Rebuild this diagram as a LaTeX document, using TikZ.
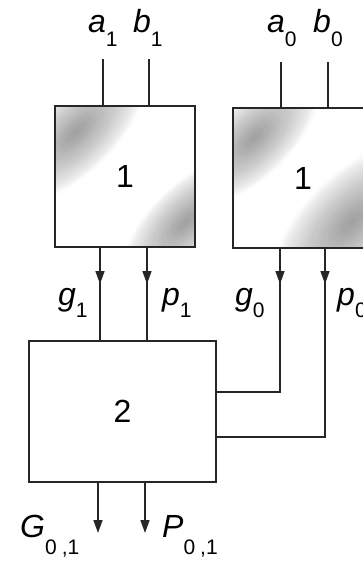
\documentclass[tikz,border=0pt]{standalone}
\usepackage{fontspec}
\setmainfont{Liberation Sans}
\usetikzlibrary{arrows.meta,decorations.markings,calc}
% stepped grey blob: centre x, centre y, half-width, half-length
\newcommand\grayblob[4]{%
  \foreach \i in {1,...,20}{%
    \pgfmathsetmacro\ff{1-(\i-1)/20}%
    \pgfmathtruncatemacro\kk{1+38*(1-\ff)^0.8}%
    \fill[black!\kk, rotate around={-45:(#1,#2)}] (#1,#2) ellipse [x radius=#3*\ff, y radius=#4*\ff];
  }}
\begin{document}
\begin{tikzpicture}[x=1pt,y=-1pt,
  ln/.style={line width=1.6pt, draw=black!85},
  blk/.style={draw=black!85, line width=2pt, rectangle, inner sep=0pt, font=\fontsize{32}{32}\selectfont},
  lbl/.style={anchor=base west, inner sep=0pt, font=\fontsize{32}{32}\selectfont\itshape},
  midarrow/.style={postaction={decorate}, decoration={markings, mark=at position #1 with {\arrow{Triangle[length=13pt,width=9pt]}}}},
  tipend/.style={-{Triangle[length=13pt,width=9pt]}}]
\useasboundingbox (0,0) rectangle (362,562);
% mottled grey of the stage-1 blocks
\begin{scope}
  \clip (55,106) rectangle (195,247);
  \grayblob{76}{132}{40}{90}
  \grayblob{186}{222}{36}{82}
\end{scope}
\begin{scope}
  \clip (233,108) rectangle (373,248);
  \grayblob{254}{138}{38}{84}
  \grayblob{352}{222}{48}{102}
\end{scope}
% blocks
\node[blk, minimum width=140pt, minimum height=141pt] (B1) at (125,176.5) {1};
\node[blk, minimum width=140pt, minimum height=140pt] (B0) at (303,178) {1};
\node[blk, minimum width=187pt, minimum height=141pt] (B2) at (122.5,411) {2};
% input ends
\coordinate (ia1) at (103,59);
\coordinate (ib1) at (149,59);
\coordinate (ia0) at (281,62);
\coordinate (ib0) at (328,62);
\draw[ln] (ia1) -- (ia1 |- B1.north);
\draw[ln] (ib1) -- (ib1 |- B1.north);
\draw[ln] (ia0) -- (ia0 |- B0.north);
\draw[ln] (ib0) -- (ib0 |- B0.north);
% stage-1 outputs
\coordinate (xg1) at (100,0);
\coordinate (xp1) at (147,0);
\coordinate (xg0) at (280,392);
\coordinate (xp0) at (325,437);
\draw[ln, midarrow=36pt] (B1.south -| xg1) -- (B2.north -| xg1);
\draw[ln, midarrow=36pt] (B1.south -| xp1) -- (B2.north -| xp1);
\draw[ln, midarrow=35pt] (B0.south -| xg0) |- (B2.east |- xg0);
\draw[ln, midarrow=35pt] (B0.south -| xp0) |- (B2.east |- xp0);
% final outputs
\coordinate (oG) at (98,533);
\coordinate (oP) at (145,533);
\draw[ln, tipend] (B2.south -| oG) -- (oG);
\draw[ln, tipend] (B2.south -| oP) -- (oP);
% labels
\node[lbl] (la1) at (88,32) {a\raisebox{-14pt}{\upshape\fontsize{21}{21}\selectfont 1}};
\node[lbl] (lb1) at (133,32) {b\raisebox{-14pt}{\upshape\fontsize{21}{21}\selectfont 1}};
\node[lbl] (la0) at (267,32) {a\raisebox{-14pt}{\upshape\fontsize{21}{21}\selectfont 0}};
\node[lbl] (lb0) at (313,32) {b\raisebox{-14pt}{\upshape\fontsize{21}{21}\selectfont 0}};
\node[lbl] (lg1) at (58,305) {g\raisebox{-12pt}{\upshape\fontsize{21}{21}\selectfont 1}};
\node[lbl] (lp1) at (162,305) {p\raisebox{-12pt}{\upshape\fontsize{21}{21}\selectfont 1}};
\node[lbl] (lg0) at (235,305) {g\raisebox{-12pt}{\upshape\fontsize{21}{21}\selectfont 0}};
\node[lbl] (lp0) at (337,305) {p\raisebox{-12pt}{\upshape\fontsize{21}{21}\selectfont 0}};
\node[lbl] (lG) at (20,537) {G\raisebox{-17pt}{\upshape\fontsize{21}{21}\selectfont 0\hspace{5pt},1}};
\node[lbl] (lP) at (162,537) {P\raisebox{-17pt}{\upshape\fontsize{21}{21}\selectfont 0\hspace{5pt},1}};
\end{tikzpicture}
\end{document}
